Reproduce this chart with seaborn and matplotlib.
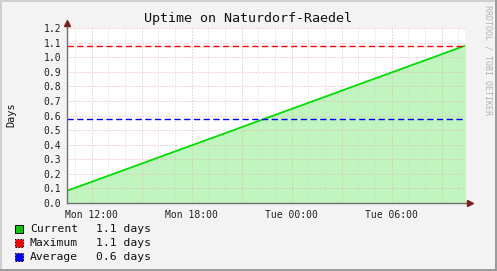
import matplotlib
matplotlib.use("Agg")
import matplotlib.pyplot as plt
from matplotlib.patches import Rectangle
import numpy as np
import pandas as pd
import seaborn as sns

# ---- data ----
hours = [10.5, 12.5, 14.5, 16.5, 18.5, 20.5, 22.5, 24.5, 26.5, 28.5, 30.5, 32.5, 34.5]
uptime_days = [0.083, 0.166, 0.249, 0.333, 0.416, 0.499, 0.583, 0.666, 0.749, 0.833, 0.916, 0.999, 1.083]
maximum_days = 1.079
average_days = 0.575
tick_hours = [12, 18, 24, 30]
tick_labels = ["Mon 12:00", "Mon 18:00", "Tue 00:00", "Tue 06:00"]
y_ticks = [0.0, 0.1, 0.2, 0.3, 0.4, 0.5, 0.6, 0.7, 0.8, 0.9, 1.0, 1.1, 1.2]
legend_names = ["Current", "Maximum", "Average"]
legend_values = ["1.1 days", "1.1 days", "0.6 days"]
title = "Uptime on Naturdorf-Raedel"
y_label = "Days"
watermark = "RRDTOOL / TOBI OETIKER"

sns.set_style("white")
plt.rcParams["font.family"] = ["DejaVu Sans Mono", "DejaVu Sans"]

W, H = 497, 271
BG = "#f3f3f3"
fig = plt.figure(figsize=(W / 100, H / 100), dpi=100, facecolor=BG)

def fx(px):
    return px / W

def fy(py):
    return 1 - py / H

# axes: x 67..465, y 28..203
ax = fig.add_axes([fx(67), fy(203), fx(465) - fx(67), fy(28) - fy(203)])
ax.set_facecolor("white")

xmin, xmax = 10.52, 34.4
ax.set_xlim(xmin, xmax)
ax.set_ylim(0, 1.2)

df = pd.DataFrame({"hour": hours, "uptime": uptime_days})

ax.fill_between(df["hour"], df["uptime"], 0, color="#c0f5c0", zorder=2, lw=0)

# grid (drawn over the fill, like RRDtool)
major_col = "#e8b0b0"
minor_col = "#d2d2d2"
for h in np.arange(11, 35, 1):
    if h % 3 == 0:
        continue
    ax.axvline(h, color=minor_col, lw=0.72, ls=(0, (1, 2)), zorder=3, alpha=0.9)
for h in np.arange(12, 35, 3):
    ax.axvline(h, color=major_col, lw=0.72, ls=(0, (1, 2)), zorder=3)
for v in y_ticks[1:]:
    ax.axhline(v, color=major_col, lw=0.72, ls=(0, (1, 2)), zorder=3)

sns.lineplot(data=df, x="hour", y="uptime", ax=ax, color="#00dd00", lw=1.3, zorder=4)
ax.axhline(maximum_days, color="#ff0000", lw=1.0, ls=(0, (4.5, 2.5)), zorder=5)
ax.axhline(average_days, color="#0000ff", lw=1.0, ls=(0, (4.5, 2.5)), zorder=5)

ax.set_xlabel("")
ax.set_ylabel("")
ax.set_xticks(tick_hours)
ax.set_xticklabels(tick_labels)
ax.set_xticks(np.arange(12, 35, 3), minor=True)
ax.set_yticks(y_ticks)
ax.set_yticklabels([f"{v:.1f}" for v in y_ticks])
ax.tick_params(axis="both", labelsize=7, colors="#222222", pad=2)
ax.tick_params(axis="x", which="major", length=3, color="#d07070", direction="out")
ax.tick_params(axis="x", which="minor", length=3, color="#d07070", direction="out")
ax.tick_params(axis="y", which="major", length=2, color="#d07070", direction="out")

for s in ["top", "right"]:
    ax.spines[s].set_visible(False)
for s in ["left", "bottom"]:
    ax.spines[s].set_color("#707070")
    ax.spines[s].set_linewidth(1.0)
    ax.spines[s].set_zorder(6)

# axis extensions with arrows
ax.plot([1.0, 1.01], [0, 0], transform=ax.transAxes, color="#707070", lw=1.0, clip_on=False, zorder=6)
ax.plot([1.012], [0], transform=ax.transAxes, marker=">", color="#7f1f1f", ms=4, clip_on=False, zorder=7)
ax.plot([0, 0], [1.0, 1.025], transform=ax.transAxes, color="#707070", lw=1.0, clip_on=False, zorder=6)
ax.plot([0], [1.03], transform=ax.transAxes, marker="^", color="#7f1f1f", ms=4, clip_on=False, zorder=7)

# title and labels
fig.text(fx(248), fy(19), title, ha="center", va="center", fontsize=9.6, color="#111111")
fig.text(fx(11), fy(115), y_label, ha="center", va="center", rotation=90, fontsize=7.4, color="#111111")
fig.text(fx(488), fy(5), watermark, ha="center", va="top", rotation=-90, fontsize=6.0, color="#b4b4b4")

# legend
leg_colors = ["#00cc00", "#ff0000", "#0000ff"]
leg_ys = [229, 243, 257]
for name, val, col, y, i in zip(legend_names, legend_values, leg_colors, leg_ys, range(3)):
    fig.patches.append(Rectangle((fx(15), fy(y + 4)), fx(8), 8 / H, transform=fig.transFigure,
                                 facecolor=col, edgecolor="#000000", lw=0.7,
                                 ls="-" if i == 0 else (0, (1.5, 1.5))))
    fig.text(fx(30), fy(y), name, ha="left", va="center", fontsize=8.2, color="#111111")
    fig.text(fx(96), fy(y), val, ha="left", va="center", fontsize=8.2, color="#111111")

# 3D frame
fig.patches.append(Rectangle((0, 0), fx(2), 1, transform=fig.transFigure, facecolor="#cfcfcf", lw=0))
fig.patches.append(Rectangle((0, fy(2)), 1, 2 / H, transform=fig.transFigure, facecolor="#cfcfcf", lw=0))
fig.patches.append(Rectangle((fx(W - 2), 0), fx(2), 1, transform=fig.transFigure, facecolor="#9c9c9c", lw=0))
fig.patches.append(Rectangle((0, 0), 1, 2 / H, transform=fig.transFigure, facecolor="#9c9c9c", lw=0))

fig.savefig("out.png", dpi=100, facecolor=BG)
